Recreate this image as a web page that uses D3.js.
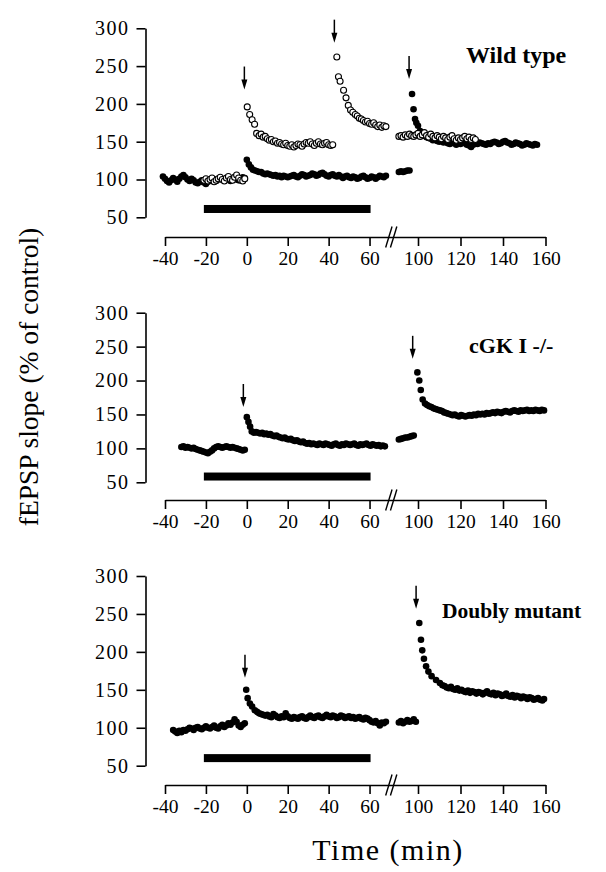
<!DOCTYPE html>
<html><head><meta charset="utf-8">
<script src="https://cdn.jsdelivr.net/npm/d3@7"></script>
<style>
html,body{margin:0;padding:0;background:#fff;}
svg{display:block;}
text{font-family:"Liberation Serif","Times New Roman",serif;fill:#000;}
</style></head><body>
<svg id="chart" width="606" height="872"></svg>
<script>
// ---------------- DATA ----------------
const xTicks = [-40,-20,0,20,40,60,100,120,140,160];
const yTicks = [50,100,150,200,250,300];
const panelTitles = ["Wild type","cGK I -/-","Doubly mutant"];
const yTitle = "fEPSP slope (% of control)";
const xTitle = "Time (min)";

// drug application bar (time start, time end) and its level (% of control) per panel
const drugBar = [-21, 60.5];
const barLevels = [61, 58.5, 60];

// tetanus arrows: [time, value at arrow tip]
const wtArrows = [[-1.2,219],[42.8,281],[95.8,233]];
const cgkArrows = [[-1.7,161],[97.5,232]];
const dmArrows = [[-0.9,166],[99.1,257]];

// Wild type, filled circles
const wtFilled = [
[-41,104],[-40,101],[-39,98],[-38,96],[-37,99],[-36,102],[-35,100],[-34,97],[-33,101],[-32,104],[-31,106],[-30,103],[-29,100],[-28,98],[-27,101],[-26,99],[-25,96],[-24,95],[-23,97],[-22,99],[-21,96],[-20,94],[-19,97],[-18,99],[-17,101],[-16,100],[-15,98],[-14,100],[-13,102],[-12,100],[-11,99],[-10,101],[-9,100],[-8,98],[-7,101],[-6,103],[-5,100],[-4,99],[-3,101],[-2,103],[-1,102],
[0,126],[1,120],[2,116],[3,113],[4,112],[5,111],[6,110],[7,110],[8,108],[9,107],[10,108],[11,107],[12,106],[13,105],[14,106],[15,104],[16,105],[17,103],[18,105],[19,104],[20,103],[21,104],[22,105],[23,106],[24,104],[25,103],[26,105],[27,107],[28,106],[29,104],[30,105],[31,106],[32,108],[33,107],[34,105],[35,106],[36,108],[37,109],[38,107],[39,105],[40,104],[41,106],[42,107],[43,105],[44,104],[45,106],[46,104],[47,102],[48,104],[49,105],[50,103],[51,102],[52,104],[53,103],[54,101],[55,102],[56,104],[57,105],[58,103],[59,101],[60,102],[61,104],[62,103],[63,101],[64,103],[65,105],[66,104],[67,103],[68,105],
[91,110],[92,111],[93,110],[94,111],[95,112],[96,112],
[97.2,213],[97.9,193],[98.6,180],[99.2,175],[100,171],[101,164],[102,160],[103,158],[104,156],[105,155],[106,154],[107,152],[108,153],[109,151],[110,150],[111,151],[112,149],[113,150],[114,148],[115,147],[116,149],[117,148],[118,146],[119,148],[120,147],[121,149],[122,148],[123,146],[124,145],[125,143],[126,146],[127,148],[128,147],[129,149],[130,148],[131,147],[132,146],[133,148],[134,147],[135,149],[136,150],[137,149],[138,147],[139,148],[140,150],[141,151],[142,149],[143,148],[144,146],[145,147],[146,149],[147,148],[148,147],[149,145],[150,146],[151,148],[152,147],[153,146],[154,145],[155,147],[156,146]
];

// Wild type, open circles
const wtOpen = [
[-21,99],[-20,101],[-19,98],[-18,100],[-17,102],[-16,97],[-15,99],[-14,101],[-13,103],[-12,100],[-11,98],[-10,102],[-9,104],[-8,100],[-7,99],[-6,103],[-5,106],[-4,102],[-3,99],[-2,98],[-1,101],
[0.2,196],[1.4,186],[2.6,179],[3.8,173],[4.8,161],[6,158],[7,160],[8,156],[9,157],[10,154],[11,152],[12,153],[13,150],[14,151],[15,148],[16,149],[17,147],[18,146],[19,148],[20,145],[21,144],[22,146],[23,143],[24,145],[25,147],[26,146],[27,144],[28,147],[29,149],[30,148],[31,150],[32,147],[33,145],[34,148],[35,150],[36,147],[37,146],[38,148],[39,149],[40,146],[41,145],[42,146],
[44,262],[44.8,236],[45.6,230],[47.3,218],[48.5,208],[49.6,198],[50.7,192],[51.8,189],[53,186],[54,184],[55,181],[56,180],[57,178],[58,176],[59,177],[60,174],[61,173],[62,175],[63,172],[64,170],[65,172],[66,169],[67,171],[68,170],
[91,157],[92,158],[93,156],[94,159],[95,157],[96,160],[97,158],[98,157],[99,159],[100,161],[101,157],[102,159],[103,162],[104,158],[105,156],[106,160],[107,157],[108,155],[109,158],[110,156],[111,154],[112,157],[113,155],[114,153],[115,156],[116,158],[117,154],[118,152],[119,155],[120,153],[121,155],[122,157],[123,154],[124,156],[125,153],[126,155],[127,153]
];

// cGK I -/-, filled circles
const cgkFilled = [
[-32,102],[-31,103],[-30,101],[-29,102],[-28,101],[-27,100],[-26,101],[-25,99],[-24,98],[-23,97],[-22,96],[-21,95],[-20,94],[-19,93],[-18,95],[-17,97],[-16,100],[-15,102],[-14,103],[-13,102],[-12,101],[-11,102],[-10,103],[-9,102],[-8,101],[-7,102],[-6,101],[-5,100],[-4,99],[-3,98],[-2,97],[-1,98],
[0,146],[0.8,139],[1.6,132],[2.4,125],[3.5,123],[4.5,124],[5.5,123],[6.5,122],[7.5,123],[8.5,121],[9.5,122],[10.5,120],[11.5,121],[12.5,119],[13.5,118],[14.5,119],[15.5,117],[16.5,116],[17.5,115],[18.5,116],[19.5,114],[20.5,113],[21.5,114],[22.5,112],[23.5,111],[24.5,112],[25.5,110],[26.5,109],[27.5,110],[28.5,108],[29.5,107],[30.5,108],[31.5,106],[32.5,107],[33.5,106],[34.5,105],[35.5,107],[36.5,106],[37.5,105],[38.5,107],[39.5,106],[40.5,105],[41.5,104],[42.5,106],[43.5,107],[44.5,105],[45.5,104],[46.5,106],[47.5,105],[48.5,107],[49.5,106],[50.5,105],[51.5,106],[52.5,107],[53.5,105],[54.5,104],[55.5,106],[56.5,105],[57.5,106],[58.5,107],[59.5,105],[60.5,104],[61.5,106],[62.5,105],[63.5,104],[64.5,105],[65.5,103],[66.5,104],[67.5,103],
[91,113],[92,114],[93,115],[94,116],[95,116],[96,117],[97,118],[98,119],
[99.7,212],[100.6,200],[101.3,186],[102.2,172],[103.3,166],[104.3,164],[105.3,162],[106.3,161],[107.3,159],[108.3,158],[109.3,157],[110.3,156],[111.3,155],[112.3,153],[113.3,152],[114.3,151],[115.3,150],[116.3,149],[117.3,150],[118.3,148],[119.3,147],[120.3,149],[121.3,148],[122.3,147],[123.3,148],[124.3,149],[125.3,148],[126.3,150],[127.3,149],[128.3,151],[129.3,150],[130.3,151],[131.3,150],[132.3,152],[133.3,151],[134.3,152],[135.3,153],[136.3,152],[137.3,154],[138.3,153],[139.3,152],[140.3,154],[141.3,155],[142.3,154],[143.3,153],[144.3,155],[145.3,156],[146.3,155],[147.3,154],[148.3,156],[149.3,155],[150.3,156],[151.3,157],[152.3,155],[153.3,156],[154.3,155],[155.3,157],[156.3,156],[157.3,155],[158.3,157],[159.3,156]
];

// Doubly mutant, filled circles
const dmFilled = [
[-36,97],[-35,95],[-34,93],[-33,96],[-32,94],[-31,97],[-30,96],[-29,98],[-28,100],[-27,99],[-26,97],[-25,100],[-24,101],[-23,99],[-22,98],[-21,100],[-20,102],[-19,100],[-18,99],[-17,101],[-16,103],[-15,100],[-14,99],[-13,102],[-12,104],[-11,101],[-10,103],[-9,106],[-8,104],[-7,107],[-6,111],[-5,108],[-4,103],[-3,101],[-2,104],[-1,106],
[-0.3,150],[0.4,139],[1.5,132],[2.6,128],[3.9,123],[5,121],[6,119],[7,118],[8,117],[9,116],[10,117],[11,115],[12,114],[13,118],[14,116],[15,114],[16,113],[17,115],[18,114],[19,119],[20,115],[21,113],[22,112],[23,114],[24,113],[25,112],[26,114],[27,115],[28,113],[29,112],[30,114],[31,116],[32,114],[33,113],[34,115],[35,116],[36,114],[37,113],[38,115],[39,117],[40,115],[41,114],[42,116],[43,115],[44,113],[45,114],[46,116],[47,115],[48,113],[49,114],[50,115],[51,113],[52,114],[53,112],[54,113],[55,114],[56,112],[57,111],[58,113],[59,112],[60,110],[61,108],[62,107],[63,109],[64,106],[65,103],[66,107],[67,106],[68,108],
[91,107],[92,109],[93,106],[94,108],[95,110],[96,108],[97,109],[98,111],[99,108],
[100.6,238],[101.4,216],[102,202],[102.8,191],[103.8,181],[104.9,174],[106.4,168],[108.5,163],[110.3,159],[111.5,156],[112.5,155],[113.5,153],[114.5,152],[115.5,154],[116.5,151],[117.5,150],[118.5,152],[119.5,149],[120.5,150],[121.5,148],[122.5,147],[123.5,149],[124.5,146],[125.5,148],[126.5,147],[127.5,145],[128.5,147],[129.5,146],[130.5,144],[131.5,146],[132.5,148],[133.5,145],[134.5,144],[135.5,146],[136.5,143],[137.5,145],[138.5,144],[139.5,142],[140.5,143],[141.5,145],[142.5,142],[143.5,141],[144.5,143],[145.5,140],[146.5,142],[147.5,141],[148.5,139],[149.5,141],[150.5,140],[151.5,138],[152.5,140],[153.5,139],[154.5,137],[155.5,138],[156.5,139],[157.5,137],[158.5,136],[159.3,138]
];

// ---------------- LAYOUT ----------------
const svg = d3.select("#chart");
const axisX = 145.5;
// broken time axis: left segment (-40..70) and right segment (88..160)
const x = d3.scaleLinear().domain([-40, 70, 88, 160]).range([165, 390, 392.5, 545.5]);
const fmt = d => String(d);   // plain hyphen-minus like the original

const panels = [
  {filled: wtFilled, open: wtOpen, arrows: wtArrows, yTop: 28.3, yBot: 217.3, axisY: 237, tx: 466, ty: 63, tsize: 24},
  {filled: cgkFilled, open: null, arrows: cgkArrows, yTop: 312.7, yBot: 482.3, axisY: 500, tx: 469, ty: 353, tsize: 22},
  {filled: dmFilled, open: null, arrows: dmArrows, yTop: 576, yBot: 765.7, axisY: 785, tx: 442, ty: 618, tsize: 21.5}
];

panels.forEach((p, i) => {
  const y = d3.scaleLinear().domain([50, 300]).range([p.yBot, p.yTop]);
  const g = svg.append("g");

  // y axis
  const ya = g.append("g").attr("transform", `translate(${axisX},0)`)
    .call(d3.axisLeft(y).tickValues(yTicks).tickSize(9).tickSizeOuter(0).tickPadding(7).tickFormat(fmt));
  ya.select(".domain").attr("stroke", "#000").attr("stroke-width", 1.6);
  ya.selectAll(".tick line").attr("stroke", "#000").attr("stroke-width", 1.6);
  ya.selectAll(".tick text").attr("font-size", 20).attr("letter-spacing", "1.5px")
    .style("font-family", "'Liberation Serif', serif").attr("fill", "#000");

  // x axis
  const xa = g.append("g").attr("transform", `translate(0,${p.axisY})`)
    .call(d3.axisBottom(x).tickValues(xTicks).tickSize(9).tickSizeOuter(0).tickPadding(5.5).tickFormat(fmt));
  xa.select(".domain").attr("stroke", "#000").attr("stroke-width", 1.6);
  xa.selectAll(".tick line").attr("stroke", "#000").attr("stroke-width", 1.6);
  xa.selectAll(".tick text").attr("font-size", 19.5)
    .style("font-family", "'Liberation Serif', serif").attr("fill", "#000");

  // axis break marks
  const bx = (x(70) + x(88)) / 2;
  [-2.4, 2.4].forEach(off => {
    g.append("line")
      .attr("x1", bx + off - 3.2).attr("y1", p.axisY + 10.5)
      .attr("x2", bx + off + 3.2).attr("y2", p.axisY - 10.5)
      .attr("stroke", "#000").attr("stroke-width", 1.4);
  });

  // drug bar
  const yb = y(barLevels[i]);
  g.append("rect")
    .attr("x", x(drugBar[0])).attr("width", x(drugBar[1]) - x(drugBar[0]))
    .attr("y", yb - 4).attr("height", 8).attr("fill", "#000");

  // filled circles
  g.append("g").selectAll("circle").data(p.filled).join("circle")
    .attr("cx", d => x(d[0])).attr("cy", d => y(d[1])).attr("r", 3.3)
    .attr("fill", "#000");

  // open circles
  if (p.open) {
    g.append("g").selectAll("circle").data(p.open).join("circle")
      .attr("cx", d => x(d[0])).attr("cy", d => y(d[1])).attr("r", 3)
      .attr("fill", "#fff").attr("stroke", "#000").attr("stroke-width", 1.1);
  }

  // arrows
  p.arrows.forEach(a => {
    const ax = x(a[0]), tip = y(a[1]);
    g.append("line").attr("x1", ax).attr("x2", ax).attr("y1", tip - 23).attr("y2", tip - 7)
      .attr("stroke", "#000").attr("stroke-width", 1.5);
    g.append("path")
      .attr("d", `M${ax - 3},${tip - 10} L${ax + 3},${tip - 10} L${ax},${tip} Z`)
      .attr("fill", "#000");
  });

  // panel title
  g.append("text").attr("x", p.tx).attr("y", p.ty)
    .attr("font-size", p.tsize).attr("font-weight", "bold").text(panelTitles[i]);
});

// axis titles
svg.append("text")
  .attr("transform", "translate(38,377) rotate(-90)")
  .attr("text-anchor", "middle").attr("font-size", 27.5)
  .text(yTitle);

svg.append("text")
  .attr("x", 388).attr("y", 860)
  .attr("text-anchor", "middle").attr("font-size", 30).attr("letter-spacing", "1.5px")
  .text(xTitle);
</script>
</body></html>
